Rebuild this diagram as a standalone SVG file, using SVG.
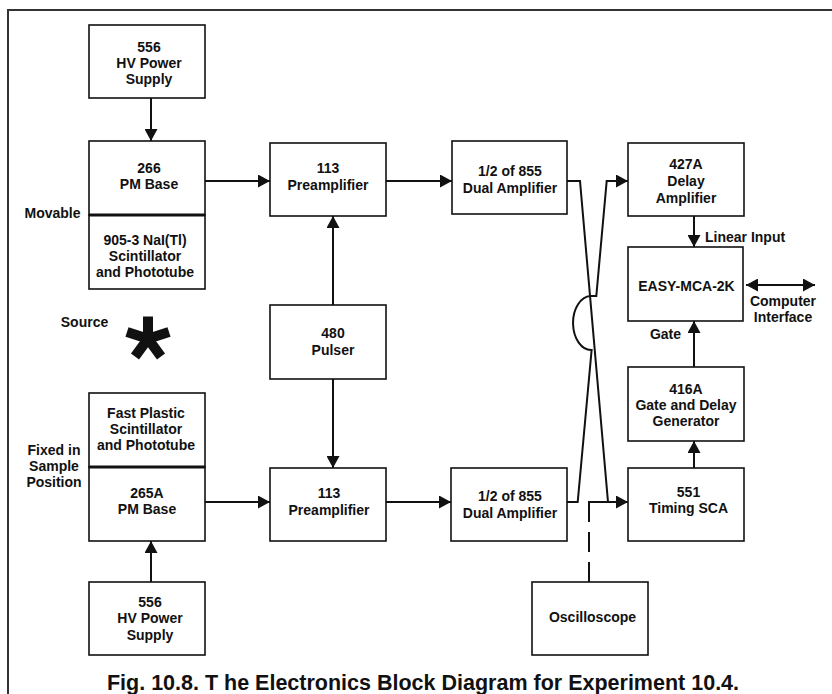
<svg xmlns="http://www.w3.org/2000/svg" width="832" height="694" viewBox="0 0 832 694">
<style>
  .box { fill: #fff; stroke: #111; stroke-width: 1.6; }
  .div { stroke: #111; stroke-width: 3; }
  .t { font-family: "Liberation Sans", Arial, Helvetica, sans-serif; font-weight: bold; font-size: 14px; fill: #111; text-anchor: middle; }
  .lbl { font-family: "Liberation Sans", Arial, Helvetica, sans-serif; font-weight: bold; font-size: 14px; fill: #111; }
  .cap { font-family: "Liberation Sans", Arial, Helvetica, sans-serif; font-weight: bold; font-size: 21.5px; fill: #111; text-anchor: middle; }
  .c { fill: none; stroke: #111; stroke-width: 2; }
  .a { marker-end: url(#ah); }
  .dash { stroke-dasharray: 20 10; }
</style>
<defs>
  <marker id="ah" viewBox="0 0 12 13" refX="12" refY="6.5" markerWidth="12" markerHeight="13" markerUnits="userSpaceOnUse" orient="auto-start-reverse">
    <path d="M0,0 L12,6.5 L0,13 z" fill="#111"/>
  </marker>
</defs>
<rect width="832" height="694" fill="#fff"/>
<path d="M8,694 V10 H832" fill="none" stroke="#333" stroke-width="2"/>

<g id="connectors">
  <path class="c a" d="M151,98 V141"/>
  <path class="c a" d="M205,181 H270"/>
  <path class="c a" d="M333,305 V216"/>
  <path class="c a" d="M333,379 V468"/>
  <path class="c a" d="M386,181 H452"/>
  <path class="c a" d="M151,582 V541"/>
  <path class="c a" d="M205,502 H270"/>
  <path class="c a" d="M386,502 H451"/>
  <path class="c a" d="M567,181 H580 L608,502 H628"/>
  <path class="c a" d="M567,502 H577.7 L591.6,350 A18,27 0 0 1 590.5,296 H596.3 L606.7,181 H628"/>
  <path class="c dash" d="M589,582 V502"/>
  <path class="c" d="M588,502 H608"/>
  <path class="c a" d="M694,216 V247"/>
  <path class="c a" d="M694,367 V321"/>
  <path class="c a" d="M694,468 V441"/>
  <path class="c" d="M746,285 H815" marker-start="url(#ah)" marker-end="url(#ah)"/>
</g>

<g id="hv-top">
  <rect class="box" x="89" y="25" width="116" height="73"/>
  <text class="t" x="149" y="52">556</text>
  <text class="t" x="149" y="68">HV Power</text>
  <text class="t" x="149" y="84">Supply</text>
</g>
<g id="pm-base-266">
  <rect class="box" x="89" y="141" width="116" height="74"/>
  <text class="t" x="149" y="173">266</text>
  <text class="t" x="149" y="189">PM Base</text>
</g>
<g id="nai-scintillator">
  <rect class="box" x="89" y="215" width="116" height="74"/>
  <line class="div" x1="89" y1="215" x2="205" y2="215"/>
  <text class="t" x="145" y="245">905-3 NaI(Tl)</text>
  <text class="t" x="145" y="261">Scintillator</text>
  <text class="t" x="145" y="277">and Phototube</text>
</g>
<g id="movable-label">
  <text class="t" x="52.5" y="218">Movable</text>
</g>
<g id="source">
  <text class="t" x="84.5" y="326.5">Source</text>
  <g stroke="#111" stroke-width="10">
    <line x1="148" y1="338.7" x2="148" y2="316.5"/>
    <line x1="148" y1="338.7" x2="169" y2="331.9"/>
    <line x1="148" y1="338.7" x2="127" y2="331.9"/>
    <line x1="148" y1="338.7" x2="161" y2="356.5"/>
    <line x1="148" y1="338.7" x2="135" y2="356.5"/>
  </g>
</g>
<g id="preamp-top">
  <rect class="box" x="270" y="143" width="116" height="73"/>
  <text class="t" x="328" y="173">113</text>
  <text class="t" x="328" y="190">Preamplifier</text>
</g>
<g id="pulser">
  <rect class="box" x="270" y="305" width="116" height="74"/>
  <text class="t" x="333" y="338">480</text>
  <text class="t" x="333" y="355">Pulser</text>
</g>
<g id="fast-plastic">
  <rect class="box" x="89" y="393" width="116" height="74"/>
  <text class="t" x="146" y="418">Fast Plastic</text>
  <text class="t" x="146" y="434">Scintillator</text>
  <text class="t" x="146" y="450">and Phototube</text>
</g>
<g id="pm-base-265a">
  <rect class="box" x="89" y="467" width="116" height="74"/>
  <line class="div" x1="89" y1="467" x2="205" y2="467"/>
  <text class="t" x="147" y="498">265A</text>
  <text class="t" x="147" y="514">PM Base</text>
</g>
<g id="fixed-label">
  <text class="t" x="54" y="455">Fixed in</text>
  <text class="t" x="54" y="471">Sample</text>
  <text class="t" x="54" y="487">Position</text>
</g>
<g id="hv-bottom">
  <rect class="box" x="89" y="582" width="116" height="73"/>
  <text class="t" x="150" y="607">556</text>
  <text class="t" x="150" y="623">HV Power</text>
  <text class="t" x="150" y="640">Supply</text>
</g>
<g id="preamp-bottom">
  <rect class="box" x="270" y="468" width="116" height="73"/>
  <text class="t" x="329" y="498">113</text>
  <text class="t" x="329" y="515">Preamplifier</text>
</g>
<g id="amp-855-top">
  <rect class="box" x="452" y="141" width="115" height="73"/>
  <text class="t" x="510" y="176">1/2 of 855</text>
  <text class="t" x="510" y="192.5">Dual Amplifier</text>
</g>
<g id="amp-855-bottom">
  <rect class="box" x="451" y="468" width="116" height="73"/>
  <text class="t" x="510" y="501">1/2 of 855</text>
  <text class="t" x="510" y="517.5">Dual Amplifier</text>
</g>
<g id="delay-amp-427a">
  <rect class="box" x="628" y="143" width="116" height="73"/>
  <text class="t" x="686" y="169">427A</text>
  <text class="t" x="686" y="186">Delay</text>
  <text class="t" x="686" y="202.5">Amplifier</text>
</g>
<g id="easy-mca">
  <rect class="box" x="628" y="247" width="115" height="74"/>
  <text class="t" x="686.5" y="291">EASY-MCA-2K</text>
  <text class="lbl" x="705" y="242">Linear Input</text>
  <text class="t" x="665.5" y="339">Gate</text>
</g>
<g id="computer-interface">
  <text class="t" x="783" y="306">Computer</text>
  <text class="t" x="783" y="322">Interface</text>
</g>
<g id="gate-delay-416a">
  <rect class="box" x="628" y="367" width="116" height="74"/>
  <text class="t" x="686" y="394">416A</text>
  <text class="t" x="686" y="410">Gate and Delay</text>
  <text class="t" x="686" y="425.5">Generator</text>
</g>
<g id="timing-sca-551">
  <rect class="box" x="628" y="468" width="116" height="73"/>
  <text class="t" x="688.5" y="496.5">551</text>
  <text class="t" x="688.5" y="513">Timing SCA</text>
</g>
<g id="oscilloscope">
  <rect class="box" x="532" y="582" width="116" height="73"/>
  <text class="t" x="592.5" y="621.5">Oscilloscope</text>
</g>
<g id="caption">
  <text class="cap" x="423" y="690">Fig. 10.8. T he Electronics Block Diagram for Experiment 10.4.</text>
</g>
</svg>
